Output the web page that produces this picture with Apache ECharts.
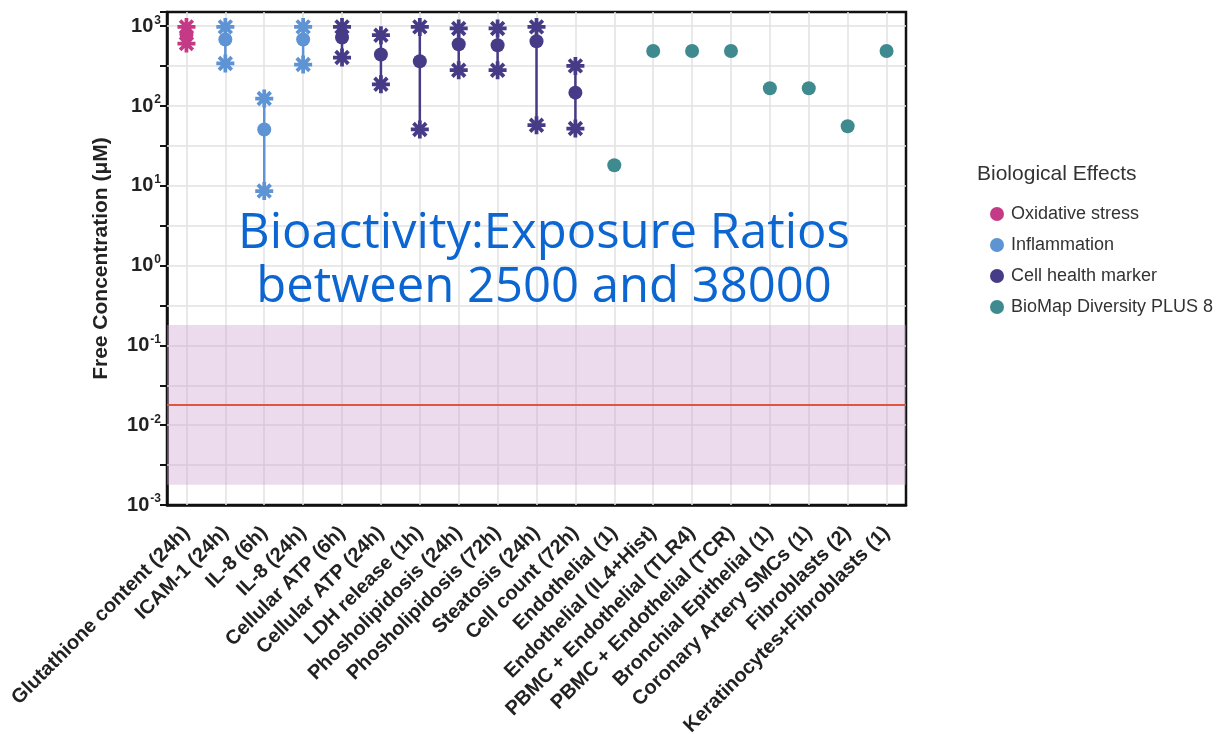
<!DOCTYPE html>
<html>
<head>
<meta charset="utf-8">
<style>
  html, body { margin: 0; padding: 0; background: #fff; }
  #chart { width: 1222px; height: 734px; }
</style>
<script src="https://cdn.jsdelivr.net/npm/echarts@6/dist/echarts.min.js"></script>
</head>
<body>
<div id="chart"></div>
<script>
// categories along the x axis
var categories = [
    'Glutathione content (24h)', 'ICAM-1 (24h)', 'IL-8 (6h)', 'IL-8 (24h)',
    'Cellular ATP (6h)', 'Cellular ATP (24h)', 'LDH release (1h)',
    'Phosholipidosis (24h)', 'Phosholipidosis (72h)', 'Steatosis (24h)',
    'Cell count (72h)', 'Endothelial (1)', 'Endothelial (IL4+Hist)',
    'PBMC + Endothelial (TLR4)', 'PBMC + Endothelial (TCR)',
    'Bronchial Epithelial (1)', 'Coronary Artery SMCs (1)',
    'Fibroblasts (2)', 'Keratinocytes+Fibroblasts (1)'
];
var groupNames = ['Oxidative stress', 'Inflammation', 'Cell health marker', 'BioMap Diversity PLUS 8'];
var groupColors = ['#c53a86', '#5e93d4', '#463b86', '#3e8a8f'];
// which group each category belongs to
var groupOf = [0, 1, 1, 1, 2, 2, 2, 2, 2, 2, 2, 3, 3, 3, 3, 3, 3, 3, 3];

// free concentration (uM): dot, upper star, lower star
var midVals  = [787, 681, 50.8, 681, 721, 442, 364, 595, 578, 649, 147, 18.1, 490, 490, 490, 167, 167, 55.8, 490];
var highVals = [980, 980, 124, 980, 980, 771, 980, 936, 936, 980, 318, null, null, null, null, null, null, null, null];
var lowVals  = [607, 341, 8.6, 331, 405, 187, 50.8, 281, 281, 57.4, 52.2, null, null, null, null, null, null, null, null];

// exposure band and the red reference line (uM)
var bandLow = 0.0018, bandHigh = 0.18, refLine = 0.018;

var yTickExp = [-3, -2, -1, 0, 1, 2, 3];

var lg = function (v) { return Math.log10(v); };

// 8-armed asterisk as one outline
function makeStar(w, R) {
    var pts = [];
    var rin = w / Math.sin(Math.PI / 8);
    for (var k = 0; k < 8; k++) {
        var a = k * Math.PI / 4;
        var dx = Math.cos(a), dy = Math.sin(a), px = -dy, py = dx;
        pts.push([R * dx - w * px, R * dy - w * py]);
        pts.push([R * dx + w * px, R * dy + w * py]);
        var b = a + Math.PI / 8;
        pts.push([rin * Math.cos(b), rin * Math.sin(b)]);
    }
    return 'path://' + pts.map(function (p, i) {
        return (i ? 'L' : 'M') + (p[0] + 50).toFixed(2) + ' ' + (p[1] + 50).toFixed(2);
    }).join('') + 'Z';
}
var starPath = makeStar(10, 48);

var chart = echarts.init(document.getElementById('chart'));

var series = [];

// grid lines: vertical through category centres, horizontal every half decade
var gridLines = categories.map(function (c, i) { return { xAxis: i }; });
for (var e = -2.5; e <= 3; e += 0.5) gridLines.push({ yAxis: e });
series.push({
    name: '_grid', type: 'scatter', data: [], z: 1, silent: true,
    markLine: {
        silent: true, symbol: 'none', animation: false, z: 1,
        label: { show: false },
        lineStyle: { color: '#e2e2e2', width: 1.5, type: 'solid' },
        data: gridLines
    }
});

// exposure band + red line
series.push({
    name: '_band', type: 'scatter', data: [], z: 2, silent: true,
    markArea: {
        silent: true, z: 2,
        itemStyle: { color: 'rgba(205,160,205,0.38)' },
        data: [[{ yAxis: lg(bandHigh) }, { yAxis: lg(bandLow) }]]
    },
    markLine: {
        silent: true, symbol: 'none', animation: false, z: 2,
        label: { show: false },
        lineStyle: { color: '#e0553f', width: 2, type: 'solid' },
        data: [{ yAxis: lg(refLine) }]
    }
});

groupNames.forEach(function (name, g) {
    var col = groupColors[g];
    var rangeData = [], starData = [], dotData = [];
    for (var i = 0; i < categories.length; i++) {
        if (groupOf[i] !== g) continue;
        dotData.push([i, lg(midVals[i])]);
        if (highVals[i] != null) {
            rangeData.push([i, lg(lowVals[i]), lg(highVals[i])]);
            starData.push([i, lg(highVals[i])]);
            starData.push([i, lg(lowVals[i])]);
        }
    }
    series.push({
        name: name, type: 'custom', z: 3,
        itemStyle: { color: col },
        data: rangeData,
        renderItem: function (params, api) {
            var p1 = api.coord([api.value(0), api.value(1)]);
            var p2 = api.coord([api.value(0), api.value(2)]);
            return {
                type: 'line',
                shape: { x1: p1[0], y1: p1[1], x2: p2[0], y2: p2[1] },
                style: { stroke: col, lineWidth: 2.5 }
            };
        }
    });
    series.push({
        name: name, type: 'scatter', z: 4,
        symbol: starPath, symbolSize: 18,
        itemStyle: { color: col, opacity: 1 },
        data: starData
    });
    series.push({
        name: name, type: 'scatter', z: 5,
        symbol: 'circle', symbolSize: 14,
        itemStyle: { color: col, opacity: 1 },
        data: dotData
    });
});

var option = {
    backgroundColor: '#fff',
    animation: false,
    title: {
        text: 'Biological Effects',
        left: 972, top: 159,
        textStyle: { fontFamily: 'Liberation Sans', fontSize: 21, fontWeight: 'normal', color: '#333' }
    },
    legend: {
        data: groupNames,
        orient: 'vertical',
        left: 985, top: 200,
        icon: 'circle',
        itemWidth: 14, itemHeight: 14,
        itemGap: 13,
        textStyle: { fontFamily: 'Liberation Sans', fontSize: 18, color: '#333', padding: [0, 0, 0, 2] }
    },
    grid: {
        left: 167, right: 316, top: 12, bottom: 229,
        containLabel: false, outerBoundsMode: 'none',
        show: true, borderColor: '#111', borderWidth: 2.5
    },
    xAxis: {
        type: 'category',
        data: categories,
        boundaryGap: true,
        axisLine: { onZero: false, lineStyle: { color: '#111', width: 2.5 } },
        axisTick: { alignWithLabel: true, length: 7, lineStyle: { color: '#111', width: 2 } },
        splitLine: { show: false },
        axisLabel: {
            interval: 0, rotate: 45, margin: 25,
            fontFamily: 'Liberation Sans', fontWeight: 'bold', fontSize: 20, color: '#222'
        }
    },
    yAxis: {
        type: 'value',
        min: yTickExp[0], max: 3.178, interval: 0.5,
        name: 'Free Concentration (\u03bcM)',
        nameLocation: 'middle', nameGap: 55,
        nameTextStyle: { fontFamily: 'Liberation Sans', fontWeight: 'bold', fontSize: 21, color: '#222' },
        axisLine: { show: true, lineStyle: { color: '#111', width: 2.5 } },
        axisTick: { show: true, length: 7, lineStyle: { color: '#111', width: 2 } },
        splitLine: { show: false },
        axisLabel: {
            margin: 6,
            formatter: function (v) {
                var r = Math.round(v * 10) / 10;
                if (yTickExp.indexOf(r) < 0) return '';
                return '{b|10}{s|' + r + '}';
            },
            rich: {
                b: { fontFamily: 'Liberation Sans', fontWeight: 'bold', fontSize: 20, color: '#222' },
                s: { fontFamily: 'Liberation Sans', fontWeight: 'bold', fontSize: 12, color: '#222', padding: [0, 0, 12, 1] }
            }
        }
    },
    graphic: [{
        type: 'text', z: 100,
        style: {
            text: 'Bioactivity:Exposure Ratios',
            x: 544, y: 234,
            textAlign: 'center', textVerticalAlign: 'middle',
            font: '49px "Open Sans"', fill: '#0b66d1'
        }
    }, {
        type: 'text', z: 100,
        style: {
            text: 'between 2500 and 38000',
            x: 544, y: 288,
            textAlign: 'center', textVerticalAlign: 'middle',
            font: '49px "Open Sans"', fill: '#0b66d1'
        }
    }],
    series: series
};

chart.setOption(option);
</script>
</body>
</html>
